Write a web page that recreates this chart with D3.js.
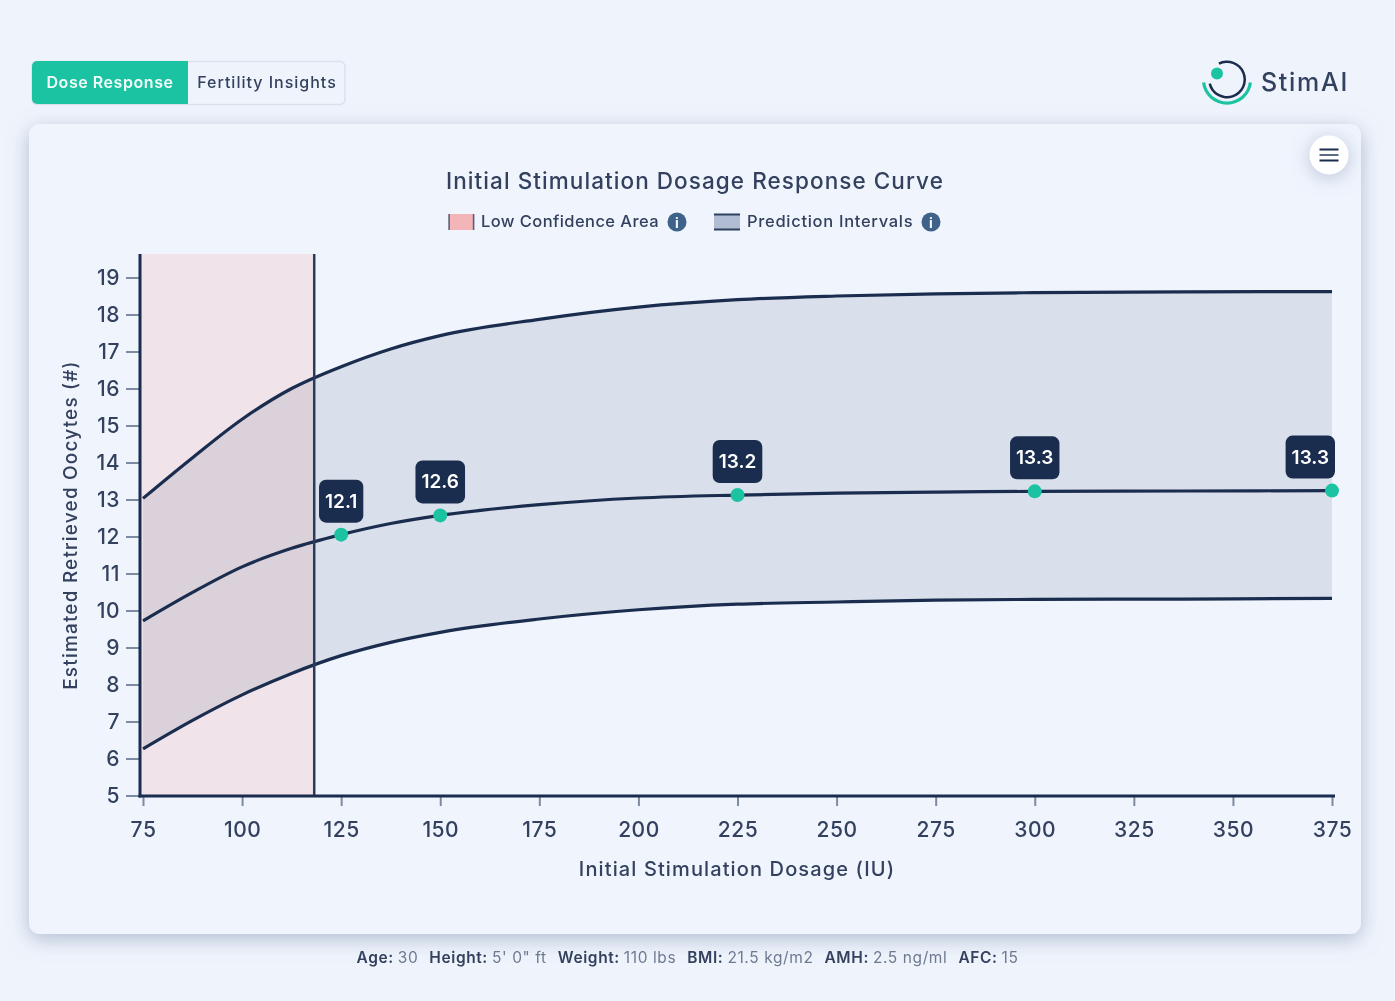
<!DOCTYPE html>
<html><head><meta charset="utf-8">
<script src="https://cdn.jsdelivr.net/npm/d3@7"></script>
<style>
html,body{margin:0;padding:0;background:#eff4fc;overflow:hidden}
svg{display:block;filter:blur(.4px)}
text{font-family:Inter,"Open Sans",sans-serif}
</style></head><body>
<svg id="c" width="1395" height="1001"></svg>
<script>
const doses      = [75, 87.5, 100, 112.5, 125, 137.5, 150, 175, 200, 225, 250, 275, 300, 337.5, 375];
const upperBound = [13.03, 14.13, 15.17, 16.0, 16.59, 17.07, 17.43, 17.87, 18.2, 18.4, 18.5, 18.56, 18.59, 18.61, 18.62];
const prediction = [9.72, 10.49, 11.18, 11.68, 12.05, 12.35, 12.57, 12.86, 13.04, 13.12, 13.17, 13.2, 13.22, 13.23, 13.24];
const lowerBound = [6.26, 7.03, 7.72, 8.3, 8.78, 9.14, 9.41, 9.77, 10.02, 10.17, 10.23, 10.28, 10.3, 10.31, 10.33];
const labelDoses = [125, 150, 225, 300, 375];
const labelValues = [12.05, 12.57, 13.12, 13.22, 13.24];
const labelTexts = ["12.1", "12.6", "13.2", "13.3", "13.3"];
const xTicks = d3.range(75, 376, 25);
const yTicks = d3.range(5, 20);
const lowConfidenceEnd = 118.2;
const chartTitle = "Initial Stimulation Dosage Response Curve";
const xTitle = "Initial Stimulation Dosage (IU)";
const yTitle = "Estimated Retrieved Oocytes (#)";
const patient = [["Age:","30"],["Height:","5' 0\" ft"],["Weight:","110 lbs"],["BMI:","21.5 kg/m2"],["AMH:","2.5 ng/ml"],["AFC:","15"]];

const INK="#1b2d4e", TXT="#33415e", TEAL="#1cc3a2", TICK="#7d8aa3";
const svg=d3.select("#c");
const defs=svg.append("defs");
const sh=defs.append("filter").attr("id","card").attr("x","-5%").attr("y","-5%").attr("width","110%").attr("height","110%");
sh.append("feDropShadow").attr("dx",0).attr("dy",5).attr("stdDeviation",10).attr("flood-color","#7f92b0").attr("flood-opacity",.55);
const sh2=defs.append("filter").attr("id","btn").attr("x","-60%").attr("y","-60%").attr("width","220%").attr("height","220%");
sh2.append("feDropShadow").attr("dx",0).attr("dy",3).attr("stdDeviation",9).attr("flood-color","#8496b2").attr("flood-opacity",.5);

// tabs
svg.append("rect").attr("x",32).attr("y",61.5).attr("width",313).attr("height",43).attr("rx",5).attr("fill","#eff4fc").attr("stroke","#dbe0ea").attr("stroke-width",1.5);
svg.append("path").attr("d","M188,61 H37 a5,5 0 0 0 -5,5 V99 a5,5 0 0 0 5,5 H188 Z").attr("fill",TEAL);
svg.append("text").attr("x",110).attr("y",88).attr("text-anchor","middle").attr("font-size",16).attr("font-weight",600).attr("letter-spacing",.55).attr("fill","#f2fbf9").text("Dose Response");
svg.append("text").attr("x",267).attr("y",88).attr("text-anchor","middle").attr("font-size",16).attr("font-weight",500).attr("letter-spacing",1).attr("fill",TXT).text("Fertility Insights");

// logo
const arc=d3.arc();
const logo=svg.append("g").attr("transform","translate(1227,79.5)");
logo.append("path").attr("d",arc({innerRadius:16.5,outerRadius:19,startAngle:-0.47,endAngle:4.48})).attr("fill",INK);
logo.append("path").attr("d",arc({innerRadius:22,outerRadius:25.2,startAngle:Math.PI*0.54,endAngle:Math.PI*1.46})).attr("fill",TEAL);
logo.append("circle").attr("cx",-10).attr("cy",-6).attr("r",6).attr("fill",TEAL);
svg.append("text").attr("x",1261).attr("y",91).attr("font-size",25).attr("font-weight",500).attr("letter-spacing",1.7).attr("fill",TXT).text("StimAI");

// card
svg.append("rect").attr("x",29).attr("y",124).attr("width",1332).attr("height",810).attr("rx",11).attr("fill","#eff4fd").attr("filter","url(#card)");
svg.append("circle").attr("cx",1329).attr("cy",155).attr("r",19.5).attr("fill","#fff").attr("filter","url(#btn)");
[149.5,155,160.5].forEach((y,i)=>svg.append("rect").attr("x",1319.5).attr("y",y-1).attr("width",19).attr("height",2).attr("fill",i==1?"#5d6b85":INK));

// title & legend
svg.append("text").attr("x",695).attr("y",189).attr("text-anchor","middle").attr("font-size",22.5).attr("font-weight",500).attr("letter-spacing",1.07).attr("fill",TXT).text(chartTitle);
svg.append("rect").attr("x",449).attr("y",214).attr("width",25).attr("height",16).attr("fill","#f3b5b8");
[449,473.5].forEach(x=>svg.append("rect").attr("x",x-.7).attr("y",214).attr("width",1.6).attr("height",16).attr("fill","#5c5f78"));
svg.append("text").attr("x",481).attr("y",227).attr("font-size",16.5).attr("font-weight",500).attr("letter-spacing",.42).attr("fill",TXT).text("Low Confidence Area");
svg.append("rect").attr("x",714).attr("y",214).attr("width",26).attr("height",16).attr("fill","#b0bdd2");
[214,229].forEach(y=>svg.append("rect").attr("x",714).attr("y",y-.5).attr("width",26).attr("height",2).attr("fill","#2f405f"));
svg.append("text").attr("x",747).attr("y",227).attr("font-size",16.5).attr("font-weight",500).attr("letter-spacing",.7).attr("fill",TXT).text("Prediction Intervals");
[677,931].forEach(x=>{
  svg.append("circle").attr("cx",x).attr("cy",222).attr("r",9.5).attr("fill","#3f6288");
  svg.append("text").attr("x",x).attr("y",227.5).attr("text-anchor","middle").attr("font-size",14).attr("font-weight",700).attr("fill","#f0f5fe").text("i");
});

// scales
const x=d3.scaleLinear().domain([75,375]).range([143,1332]);
const y=d3.scaleLinear().domain([5,19]).range([795.5,277.5]);
const yTop=254, plotL=141, yBase=796;

svg.append("rect").attr("x",plotL).attr("y",yTop).attr("width",x(lowConfidenceEnd)-plotL).attr("height",yBase-yTop).attr("fill","#f0e4ea");
const curve=d3.curveMonotoneX;
const xc=d=>Math.max(x(d),142);
svg.append("path").datum(doses).attr("fill","rgba(26,50,77,.1)")
  .attr("d",d3.area().curve(curve).x(xc).y0((d,i)=>y(lowerBound[i])).y1((d,i)=>y(upperBound[i])));
[upperBound,prediction,lowerBound].forEach(s=>{
  svg.append("path").datum(doses).attr("fill","none").attr("stroke",INK).attr("stroke-width",3.2)
    .attr("d",d3.line().curve(curve).x(xc).y((d,i)=>y(s[i])));
});
svg.append("line").attr("x1",x(lowConfidenceEnd)).attr("x2",x(lowConfidenceEnd)).attr("y1",yTop).attr("y2",yBase).attr("stroke","#2a3b5c").attr("stroke-width",2.5);

// axes
const gx=svg.append("g").attr("transform",`translate(0,${yBase-1})`).call(d3.axisBottom(x).tickValues(xTicks).tickSize(11).tickPadding(16).tickSizeOuter(0));
const gy=svg.append("g").attr("transform",`translate(139,0)`).call(d3.axisLeft(y).tickValues(yTicks).tickSize(13).tickPadding(6).tickSizeOuter(0));
[gx,gy].forEach(g=>{
  g.select(".domain").remove();
  g.selectAll("line").attr("stroke",TICK).attr("stroke-width",2);
  g.selectAll("text").attr("font-size",21).attr("font-weight",500).attr("letter-spacing",.5).attr("fill",TXT).attr("font-family","Inter");
});
svg.append("line").attr("x1",140).attr("x2",140).attr("y1",yTop).attr("y2",yBase+1.5).attr("stroke",INK).attr("stroke-width",3);
svg.append("line").attr("x1",138.5).attr("x2",1335).attr("y1",yBase).attr("y2",yBase).attr("stroke",INK).attr("stroke-width",3);

svg.append("text").attr("x",737).attr("y",876).attr("text-anchor","middle").attr("font-size",20).attr("font-weight",500).attr("letter-spacing",1.12).attr("fill",TXT).text(xTitle);
svg.append("text").attr("transform","translate(77,525) rotate(-90)").attr("text-anchor","middle").attr("font-size",19).attr("font-weight",500).attr("letter-spacing",1.18).attr("fill",TXT).text(yTitle);

// markers
labelDoses.forEach((d,i)=>{
  const px=x(d), py=y(labelValues[i]);
  const g=svg.append("g");
  const r=g.append("rect").attr("fill",INK).attr("rx",7);
  const t=g.append("text").attr("text-anchor","middle").attr("font-size",19).attr("font-weight",600).attr("fill","#fff").text(labelTexts[i]);
  const w=t.node().getBBox().width+12;
  const left=Math.min(px-w/2,1335-w);
  r.attr("x",left).attr("y",py-55).attr("width",w).attr("height",43);
  t.attr("x",left+w/2).attr("y",py-27);
  svg.append("circle").attr("cx",px).attr("cy",py).attr("r",7).attr("fill",TEAL);
});

// patient line
const line=svg.append("text").attr("x",687.5).attr("y",963).attr("text-anchor","middle").attr("font-size",15.5).attr("letter-spacing",.6).attr("fill","#6d7a92");
patient.forEach((p,i)=>{
  line.append("tspan").attr("dx",i?11:0).attr("font-weight",600).attr("fill",TXT).text(p[0]);
  line.append("tspan").attr("dx",4).text(p[1]);
});
</script></body></html>
